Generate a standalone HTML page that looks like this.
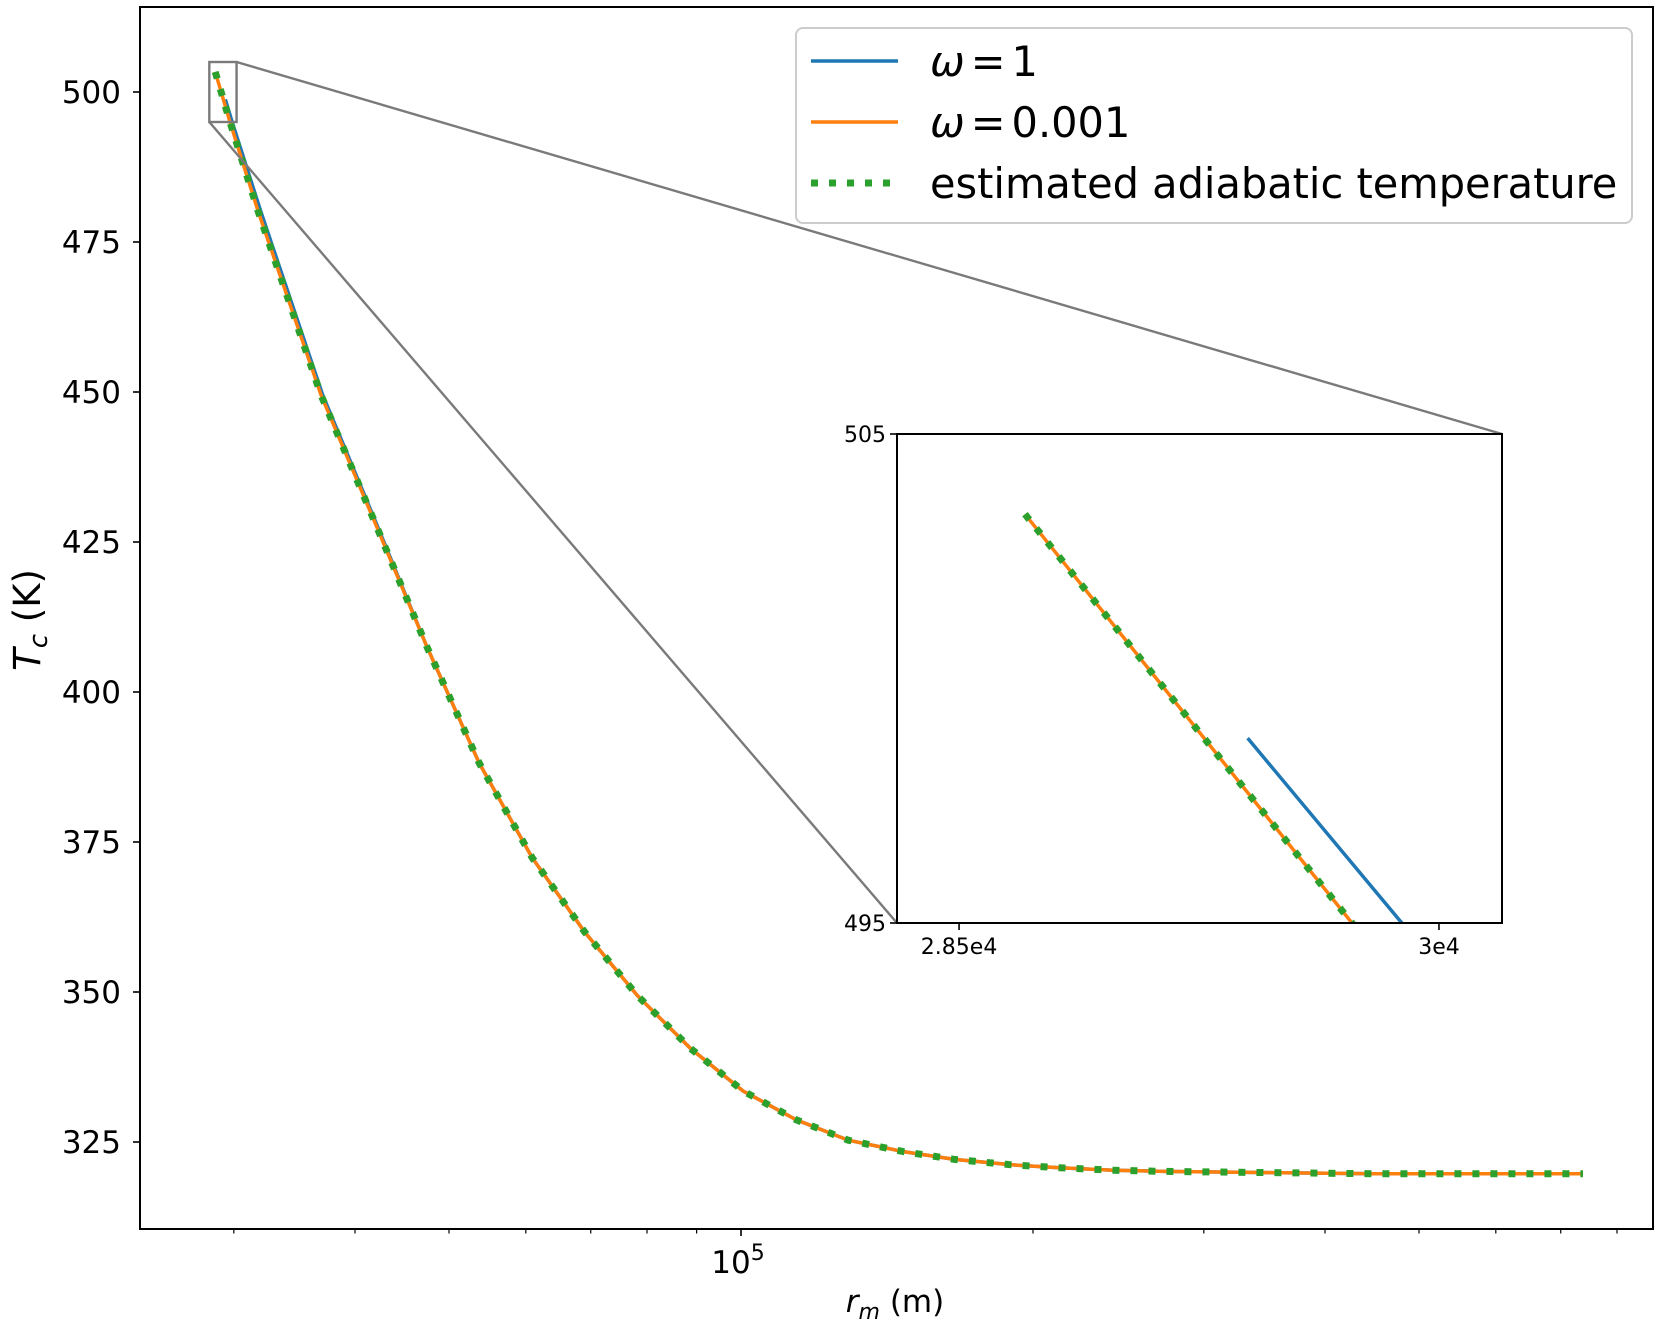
<!DOCTYPE html>
<html><head><meta charset="utf-8"><style>
html,body{margin:0;padding:0;background:#fff;overflow:hidden;width:1661px;height:1329px;}
svg{display:block;overflow:hidden;font-family:"DejaVu Sans","Liberation Sans",sans-serif;}
</style></head><body>
<svg id="chart" width="1661" height="1329" viewBox="0 0 1661 1329" xmlns="http://www.w3.org/2000/svg">
<g id="main"></g>
<g id="inset"></g>
<g id="legend"></g>
</svg>
<script>
// ---- data ----
const orangeR = [28706, 29728, 31800, 36900, 41800, 47400, 53700, 60900, 69000, 78200, 88700, 100500, 114000, 129000, 147000, 166000, 190000, 213000, 242000, 273000, 351000, 451000, 738000];
const orangeT = [503.36, 495, 480.0, 449.5, 428.8, 407.7, 388.2, 372.4, 360.0, 349.4, 340.6, 333.5, 328.7, 325.3, 323.4, 322.1, 321.2, 320.7, 320.3, 320.1, 319.9, 319.7, 319.7];
const blueR = [29402, 29884, 32000, 37050, 41900, 47400, 53700, 60900, 69000, 78200, 88700, 100500, 114000, 129000, 147000, 166000, 190000, 213000, 242000, 273000, 351000, 451000, 738000];
const blueT = [498.78, 495, 480.0, 449.5, 428.8, 407.7, 388.2, 372.4, 360.0, 349.4, 340.6, 333.5, 328.7, 325.3, 323.4, 322.1, 321.2, 320.7, 320.3, 320.1, 319.9, 319.7, 319.7];
const greenR = orangeR.slice();
const greenT = orangeT.slice();
const yTicks = [325, 350, 375, 400, 425, 450, 475, 500];
const xMinor = [30000, 40000, 50000, 60000, 70000, 80000, 90000, 200000, 300000, 400000, 500000, 600000, 700000, 800000];
const insetXTicks = [28500, 30000];
const insetXLabels = ["2.85e4", "3e4"];
const insetYTicks = [495, 505];
const legendLabels = ["ω=1", "ω=0.001", "estimated adiabatic temperature"];
const zoomBox = [28306, 30197, 495, 505];

const NS = "http://www.w3.org/2000/svg";
function mk(tag, attrs, parent, text) {
  const e = document.createElementNS(NS, tag);
  for (const k in attrs) e.setAttribute(k, attrs[k]);
  if (text !== undefined) e.textContent = text;
  parent.appendChild(e);
  return e;
}
const L = 140, R = 1653, T0 = 7, B = 1229;
const xs = r => 741 + 970 * Math.log10(r / 1e5);
const ys = t => 92 + (500 - t) * 6;
const IL = 897, IR = 1502, IT = 434, IB = 923;
const ixs = r => IL + (r - zoomBox[0]) / (zoomBox[1] - zoomBox[0]) * (IR - IL);
const iys = t => IB - (t - zoomBox[2]) / (zoomBox[3] - zoomBox[2]) * (IB - IT);

const main = document.getElementById('main');
const inset = document.getElementById('inset');
const leg = document.getElementById('legend');

function pathFrom(R_, T_, fx, fy) {
  return R_.map((r, i) => (i ? 'L' : 'M') + fx(r).toFixed(2) + ' ' + fy(T_[i]).toFixed(2)).join(' ');
}
function drawSeries(g, fx, fy, clip) {
  let p = mk('path', {d: pathFrom(blueR, blueT, fx, fy), fill: 'none', stroke: '#1f77b4', 'stroke-width': 3.5, 'clip-path': clip}, g);
  
  
  p = mk('path', {d: pathFrom(orangeR, orangeT, fx, fy), fill: 'none', stroke: '#ff7f0e', 'stroke-width': 3.5, 'clip-path': clip}, g);
  
  
  p = mk('path', {d: pathFrom(greenR, greenT, fx, fy), fill: 'none', stroke: '#2ca02c', 'stroke-width': 7, 'stroke-dasharray': '7 11', 'clip-path': clip}, g);
  
  
}
const defs = mk('defs', {}, document.getElementById('chart'));
const c1 = mk('clipPath', {id: 'clipMain'}, defs);
mk('rect', {x: L, y: T0, width: R - L, height: B - T0}, c1);
const c2 = mk('clipPath', {id: 'clipInset'}, defs);
mk('rect', {x: IL, y: IT, width: IR - IL, height: IB - IT}, c2);

drawSeries(main, xs, ys, 'url(#clipMain)');

const zx0 = xs(zoomBox[0]), zx1 = xs(zoomBox[1]), zy0 = ys(zoomBox[3]), zy1 = ys(zoomBox[2]);
let e = mk('rect', {x: zx0, y: zy0, width: zx1 - zx0, height: zy1 - zy0, fill: 'none', stroke: '#7a7a7a', 'stroke-width': 2.4}, main);


e = mk('line', {x1: zx1, y1: zy0, x2: IR, y2: IT, stroke: '#7a7a7a', 'stroke-width': 2.4}, main);


e = mk('line', {x1: zx0, y1: zy1, x2: IL, y2: IB, stroke: '#7a7a7a', 'stroke-width': 2.4}, main);



e = mk('rect', {x: L, y: T0, width: R - L, height: B - T0, fill: 'none', stroke: '#000', 'stroke-width': 2}, main);



yTicks.forEach(t => {
  const y = ys(t);
  mk('line', {x1: L - 7, y1: y, x2: L, y2: y, stroke: '#000', 'stroke-width': 1.6}, main);
  const tx = mk('text', {x: 121, y: y + 11, 'text-anchor': 'end', 'font-size': 31, fill: '#000'}, main, String(t));
  
  
});
xMinor.forEach(r => {
  const x = xs(r);
  mk('line', {x1: x, y1: B, x2: x, y2: B + 4.5, stroke: '#000', 'stroke-width': 1.2}, main);
});
mk('line', {x1: xs(1e5), y1: B, x2: xs(1e5), y2: B + 7, stroke: '#000', 'stroke-width': 1.6}, main);
e = mk('text', {x: xs(1e5) - 3, y: B + 44, 'text-anchor': 'middle', 'font-size': 31}, main);


e.innerHTML = '10<tspan dy="-13" font-size="22">5</tspan>';

e = mk('text', {x: 895, y: 1312, 'text-anchor': 'middle', 'font-size': 31}, main);


e.innerHTML = '<tspan font-style="italic">r</tspan><tspan font-style="italic" font-size="22" dy="7">m</tspan><tspan dy="-7"> (m)</tspan>';
e = mk('text', {x: 0, y: 0, 'text-anchor': 'middle', 'font-size': 37, transform: 'translate(40,620) rotate(-90)'}, main);


e.innerHTML = '<tspan font-style="italic">T</tspan><tspan font-style="italic" font-size="26" dy="7">c</tspan><tspan dy="-7"> (K)</tspan>';

// ---- inset ----
mk('rect', {x: IL, y: IT, width: IR - IL, height: IB - IT, fill: '#fff'}, inset);
drawSeries(inset, ixs, iys, 'url(#clipInset)');
e = mk('rect', {x: IL, y: IT, width: IR - IL, height: IB - IT, fill: 'none', stroke: '#000', 'stroke-width': 2}, inset);


insetXTicks.forEach((r, i) => {
  const x = ixs(r);
  mk('line', {x1: x, y1: IB, x2: x, y2: IB + 7, stroke: '#000', 'stroke-width': 1.6}, inset);
  const tx = mk('text', {x: x, y: IB + 31, 'text-anchor': 'middle', 'font-size': 22}, inset, insetXLabels[i]);
  
  
});
insetYTicks.forEach(t => {
  const y = iys(t);
  mk('line', {x1: IL - 7, y1: y, x2: IL, y2: y, stroke: '#000', 'stroke-width': 1.6}, inset);
  const tx = mk('text', {x: IL - 11, y: y + 8, 'text-anchor': 'end', 'font-size': 22}, inset, String(t));
  
  
});

// ---- legend ----
e = mk('rect', {x: 796, y: 28, width: 836, height: 195, rx: 7, fill: '#fff', 'fill-opacity': 0.8, stroke: '#cccccc', 'stroke-width': 2}, leg);


const legStyles = [
  {stroke: '#1f77b4', 'stroke-width': 3.5},
  {stroke: '#ff7f0e', 'stroke-width': 3.5},
  {stroke: '#2ca02c', 'stroke-width': 7, 'stroke-dasharray': '7 11'}
];
legendLabels.forEach((lab, i) => {
  const y = 61 + i * 61;
  const st = Object.assign({x1: 811, y1: y, x2: 898, y2: y}, legStyles[i]);
  const ln = mk('line', st, leg);
  
  
  const tx = mk('text', {x: 930, y: y + 15, 'font-size': 41.5}, leg);
  
  
  if (i < 2) {
    tx.innerHTML = '<tspan font-style="italic">ω</tspan><tspan dx="6">=</tspan><tspan dx="6">' + lab.slice(2) + '</tspan>';
  } else {
    tx.textContent = lab;
  }
});
</script>
</body></html>
